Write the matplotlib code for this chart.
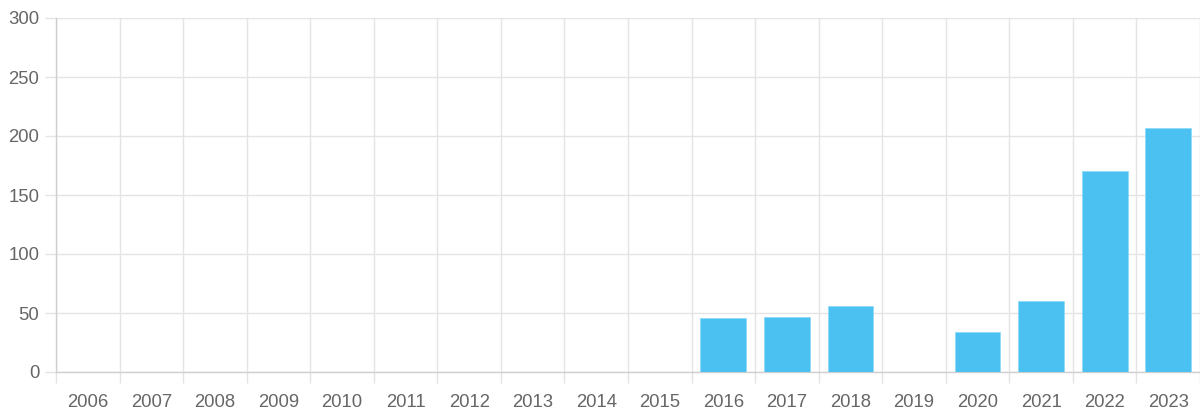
import numpy as np
import matplotlib.pyplot as plt
from matplotlib.ticker import FixedLocator

plt.rcParams['font.family'] = ['Liberation Sans', 'DejaVu Sans']

years  = [str(y) for y in range(2006, 2024)]
counts = [0, 0, 0, 0, 0, 0, 0, 0, 0, 0, 46, 47, 56, 0, 34, 60, 170, 207]

bar_color  = '#4AC1F0'
grid_color = '#e4e4e4'
text_color = '#666666'

fig = plt.figure(figsize=(12, 4.12), dpi=100)
ax  = fig.add_axes([56/1200, 40/412, 1144/1200, 354/412])

x = np.arange(len(years))
ax.bar(x, counts, width=0.72, color=bar_color, edgecolor='#8fdaf7', linewidth=0.6, zorder=3)

ax.set_xlim(-0.5, len(years) - 0.5)
ax.set_ylim(0, 300)

# labels at category centres, grid lines / ticks on category edges
ax.set_xticks(x)
ax.set_xticklabels(years)
ax.xaxis.set_minor_locator(FixedLocator(np.arange(len(years) + 1) - 0.5))
ax.tick_params(axis='x', which='major', length=0, pad=16, labelsize=13.3, labelcolor=text_color)
ax.tick_params(axis='x', which='minor', length=8, width=1, color=grid_color)
ax.grid(axis='x', which='minor', color=grid_color, lw=1, zorder=0)

ax.set_yticks(np.arange(0, 301, 50))
ax.tick_params(axis='y', length=8, width=1, color=grid_color, pad=4, labelsize=13.3, labelcolor=text_color)
ax.grid(axis='y', which='major', color=grid_color, lw=1, zorder=0)

for s in ['top', 'right']:
	ax.spines[s].set_visible(False)
for s in ['left', 'bottom']:
	ax.spines[s].set_color('#cfcfcf')
	ax.spines[s].set_linewidth(1)

fig.savefig('out.png', dpi=100)
